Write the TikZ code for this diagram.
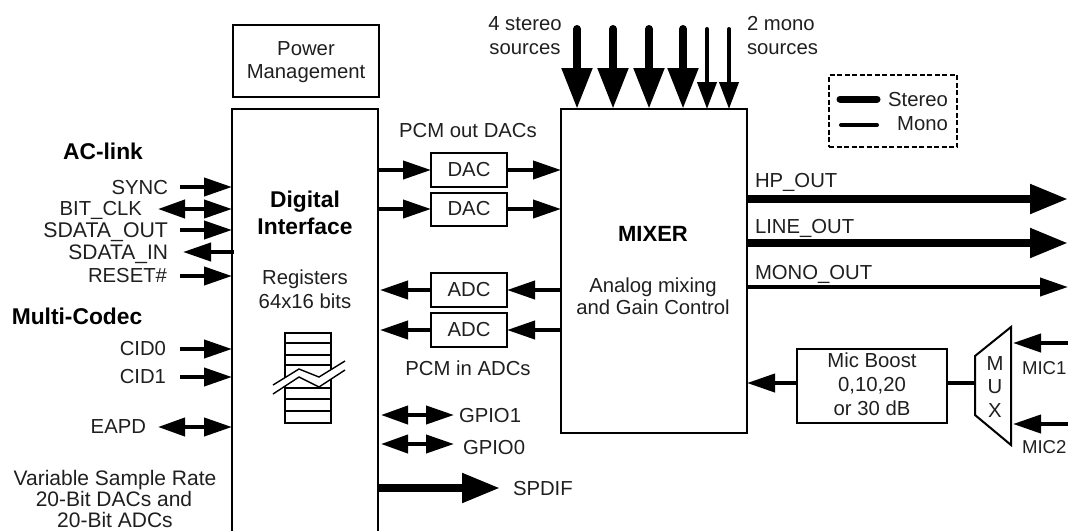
\documentclass[tikz,border=0pt]{standalone}
\usepackage{fontspec}
\setmainfont{Liberation Sans}
\usetikzlibrary{arrows.meta}
\tikzset{
  x=1pt,y=-1pt,
  every node/.style={inner sep=0pt,outer sep=0pt,font=\fontsize{20.3}{24.5}\selectfont,text=black!88},
  box/.style={draw=black,line width=2pt,text=black!88},
  lbl/.style={anchor=base},
  lblr/.style={anchor=base east},
  lbll/.style={anchor=base west},
  multi/.style={align=center,anchor=center},
  bold/.style={font=\fontsize{22.8}{26.5}\selectfont\bfseries,text=black},
  mono/.style={line width=4pt,-{Triangle[length=28pt,width=18pt]}},
  monobi/.style={line width=4pt,{Triangle[length=27pt,width=18pt]}-{Triangle[length=28pt,width=18pt]}},
  stereo/.style={line width=8pt,-{Triangle[length=38pt,width=28pt]}},
  topst/.style={line width=8pt,line cap=round,-{Triangle[length=41pt,width=29pt]}},
  topmo/.style={line width=4pt,line cap=round,-{Triangle[length=27pt,width=19pt]}},
  plain/.style={line width=4pt},
}
\begin{document}
\begin{tikzpicture}
\useasboundingbox (0,0) rectangle (1068,531);
% main blocks
\node[box,minimum width=146pt,minimum height=72pt] (pm) at (306,61) {};
\node[multi,font=\fontsize{20.3}{23}\selectfont] (pmt) at (306,62) {Power\\Management};
\node[minimum width=146pt,minimum height=422pt] (dig) at (305,320) {};
\draw[line width=2pt] (dig.south west) -- (dig.north west) -- (dig.north east) -- (dig.south east);
\node[box,minimum width=186pt,minimum height=324pt] (mix) at (654,271) {};
\node[lbl,bold,font=\fontsize{22}{26}\selectfont\bfseries] (mixt) at (653,241) {MIXER};
\node[multi,font=\fontsize{20.3}{22}\selectfont] (mixd) at (653,296) {Analog mixing\\and Gain Control};
\node[multi,bold] (digt) at (305,213) {Digital\\Interface};
\node[multi] (regs) at (305,289) {Registers\\64x16 bits};
% converters
\node[box,minimum width=76pt,minimum height=34pt] (dac1) at (469,170) {DAC};
\node[box,minimum width=76pt,minimum height=33pt] (dac2) at (469,209) {DAC};
\node[box,minimum width=76pt,minimum height=34pt] (adc1) at (469,290) {ADC};
\node[box,minimum width=76pt,minimum height=34pt] (adc2) at (469,330) {ADC};
\node[lbl] (pcmo) at (468,137) {PCM out DACs};
\node[lbl] (pcmi) at (468,375) {PCM in ADCs};
\draw[mono] (dig.east |- dac1.west) -- (dac1.west);
\draw[mono] (dig.east |- dac2.west) -- (dac2.west);
\draw[mono] (dac1.east) -- (dac1.east -| mix.west);
\draw[mono] (dac2.east) -- (dac2.east -| mix.west);
\draw[mono] (adc1.east -| mix.west) -- (adc1.east);
\draw[mono] (adc2.east -| mix.west) -- (adc2.east);
\draw[mono] (adc1.west) -- ([xshift=2pt]adc1.west -| dig.east);
\draw[mono] (adc2.west) -- ([xshift=2pt]adc2.west -| dig.east);
% AC-link side
\node[lbl,bold] (ac) at (103,159) {AC-link};
\node[lblr] (sync) at (168,194) {SYNC};
\node[lblr] (bclk) at (142,215) {BIT\_CLK};
\node[lblr,font=\fontsize{21.3}{24}\selectfont] (sdo) at (168,237) {SDATA\_OUT};
\node[lblr,font=\fontsize{21}{24}\selectfont] (sdi) at (168,259) {SDATA\_IN};
\node[lblr] (rst) at (167,282) {RESET\#};
\node[lbl,bold] (mc) at (77,324) {Multi-Codec};
\node[lblr] (cid0) at (166,355) {CID0};
\node[lblr] (cid1) at (166,383) {CID1};
\node[lblr] (eapd) at (146,433) {EAPD};
\node[lbl,font=\fontsize{21}{23}\selectfont] (vsr1) at (115,485) {Variable Sample Rate};
\node[lbl,font=\fontsize{21}{23}\selectfont] (vsr2) at (114,506) {20-Bit DACs and};
\node[lbl,font=\fontsize{21}{23}\selectfont] (vsr3) at (115,527) {20-Bit ADCs};
\coordinate (psync) at (180,187);
\coordinate (pbclk) at (158,209);
\coordinate (psdo) at (180,230);
\coordinate (psdi) at (183,252);
\coordinate (prst) at (180,276);
\coordinate (pcid0) at (180,349);
\coordinate (pcid1) at (180,377);
\coordinate (peapd) at (158,427);
\draw[mono] (psync) -- (psync -| dig.west);
\draw[monobi] (pbclk) -- (pbclk -| dig.west);
\draw[mono] (psdo) -- (psdo -| dig.west);
\draw[mono] ([xshift=2pt]psdi -| dig.west) -- (psdi);
\draw[mono] (prst) -- (prst -| dig.west);
\draw[mono] (pcid0) -- (pcid0 -| dig.west);
\draw[mono] (pcid1) -- (pcid1 -| dig.west);
\draw[monobi] (peapd) -- (peapd -| dig.west);
% memory stack
\node[draw=black,line width=1.6pt,minimum width=46pt,minimum height=90pt] (mem) at (308,378) {};
\foreach \yy in {343,355,365,377,388,399,411}
  \draw[line width=1.4pt] (mem.west |- 0,\yy) -- (mem.east |- 0,\yy);
\fill[white] (273,385) -- (299,369) -- (319,377) -- (345,361) -- (345,370) -- (319,387) -- (299,377) -- (273,394) -- cycle;
\draw[line width=1.4pt] (273,385) -- (299,369) -- (319,377) -- (345,361);
\draw[line width=1.4pt] (273,394) -- (299,377) -- (319,387) -- (345,370);
% GPIO / SPDIF
\node[lbll] (g1) at (459,422) {GPIO1};
\node[lbll] (g0) at (463,454) {GPIO0};
\node[lbll] (sp) at (513,495) {SPDIF};
\coordinate (pg1) at (454,415);
\coordinate (pg0) at (454,444);
\coordinate (psp) at (500,488);
\draw[monobi] ([xshift=3pt]pg1 -| dig.east) -- (pg1);
\draw[monobi] ([xshift=3pt]pg0 -| dig.east) -- (pg0);
\draw[stereo] (psp -| dig.east) -- (psp);
% top sources
\node[lbl] (s4a) at (525,30) {4 stereo};
\node[lbl] (s4b) at (525,54) {sources};
\node[lbll] (m2a) at (747,30) {2 mono};
\node[lbll] (m2b) at (747,54) {sources};
\coordinate (t1) at (577,29);
\coordinate (t2) at (613,29);
\coordinate (t3) at (649,29);
\coordinate (t4) at (683,29);
\coordinate (t5) at (707,29);
\coordinate (t6) at (729,29);
\foreach \tt in {t1,t2,t3,t4}
  \draw[topst] (\tt) -- (\tt |- mix.north);
\foreach \tt in {t5,t6}
  \draw[topmo] (\tt) -- (\tt |- mix.north);
% outputs
\node[lbll] (hp) at (755,187) {HP\_OUT};
\node[lbll] (lo) at (755,233) {LINE\_OUT};
\node[lbll] (mo) at (755,279) {MONO\_OUT};
\coordinate (ohp) at (1068,199);
\coordinate (olo) at (1068,243);
\coordinate (omo) at (1068,287);
\draw[stereo] (ohp -| mix.east) -- (ohp);
\draw[stereo] (olo -| mix.east) -- (olo);
\draw[mono] (omo -| mix.east) -- (omo);
% legend
\node[draw=black,line width=1.6pt,dash pattern=on 5pt off 2.5pt,minimum width=128pt,minimum height=72pt] (leg) at (893,111) {};
\node[lblr] (lst) at (948,106) {Stereo};
\node[lblr] (lmo) at (948,130) {Mono};
\coordinate (l1) at (840,99);
\coordinate (l2) at (877,99);
\coordinate (l3) at (841,125);
\coordinate (l4) at (877,125);
\draw[line width=7pt,line cap=round] (l1) -- (l2);
\draw[line width=4pt,line cap=round] (l3) -- (l4);
% mic path
\node[box,minimum width=150pt,minimum height=74pt] (boost) at (872,386) {};
\node[multi,font=\fontsize{20.3}{24}\selectfont] (boostt) at (872,384) {Mic Boost\\0,10,20\\or 30 dB};
\path[draw=black,line width=2pt] (975,356) coordinate (mtl) -- (1011,327) coordinate (mtr) -- (1011,445) coordinate (mbr) -- (975,415) coordinate (mbl) -- cycle;
\node[multi,font=\fontsize{20.3}{23.5}\selectfont] (mux) at (995,387) {M\\U\\X};
\node[lbll,font=\fontsize{18.6}{22}\selectfont] (mic1) at (1022,374) {MIC1};
\node[lbll,font=\fontsize{18.6}{22}\selectfont] (mic2) at (1022,453) {MIC2};
\coordinate (pm1) at (1068,343);
\coordinate (pm2) at (1068,424);
\coordinate (pmx) at (975,383);
\draw[mono] (pm1) -- ([xshift=2pt]pm1 -| mtr);
\draw[mono] (pm2) -- ([xshift=2pt]pm2 -| mtr);
\draw[plain] (pmx) -- (pmx -| boost.east);
\draw[mono] (pmx -| boost.west) -- (pmx -| mix.east);
\end{tikzpicture}
\end{document}
